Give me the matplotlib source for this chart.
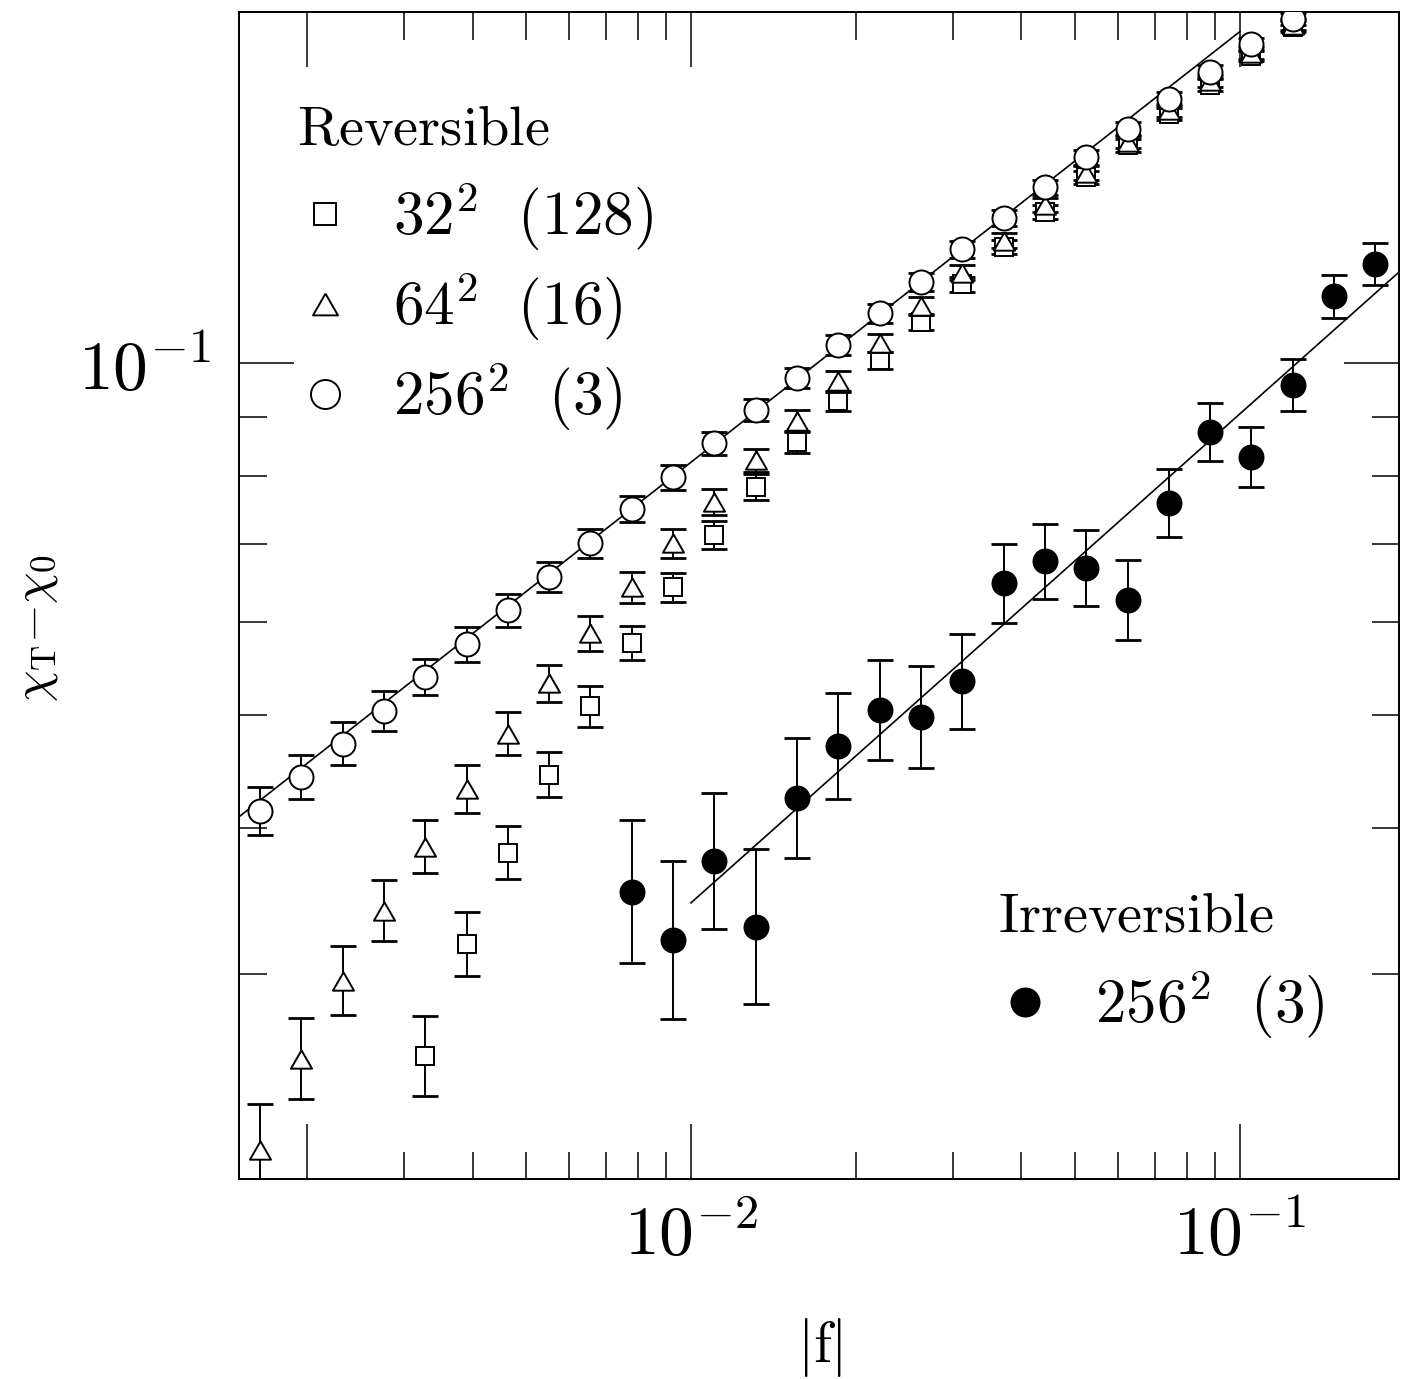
import matplotlib
matplotlib.use("Agg")
import matplotlib.pyplot as plt
import numpy as np
from matplotlib.lines import Line2D
from matplotlib.ticker import FixedLocator, FixedFormatter, LogLocator, NullFormatter

plt.rcParams['mathtext.fontset'] = 'cm'
plt.rcParams['font.family'] = ['DejaVu Serif']

# ---------------- data ----------------
# |f| grid (shared by all series)
f_grid = [0.00164, 0.00195, 0.00232, 0.00276, 0.00328, 0.00390, 0.00464, 0.00552,
          0.00656, 0.00780, 0.00928, 0.01103, 0.01312, 0.01561, 0.01856, 0.02207,
          0.02624, 0.03121, 0.03712, 0.04414, 0.05249, 0.06242, 0.07423, 0.08828,
          0.1050, 0.1248, 0.1485, 0.1766]

# Reversible 256^2 (3)  -- open circles, f_grid[0:26]
chi_256 = [0.04134, 0.04421, 0.04719, 0.05035, 0.05385, 0.05746, 0.06145, 0.06558,
           0.07014, 0.07499, 0.07989, 0.08541, 0.09116, 0.09709, 0.1036, 0.1104,
           0.1175, 0.1252, 0.1331, 0.1415, 0.1501, 0.1589, 0.1683, 0.1778, 0.1876, 0.1974]
err_256 = [0.0205, 0.0188, 0.0184, 0.0171, 0.0158, 0.0150, 0.0141, 0.0128, 0.0124,
           0.0111, 0.0107, 0.0098, 0.0094, 0.0086, 0.0086, 0.0081, 0.0077, 0.0073,
           0.0068, 0.0064, 0.0064, 0.0060, 0.0060, 0.0056, 0.0056, 0.0051]   # log10 half-widths

# Reversible 64^2 (16) -- open triangles, f_grid[0:26]
chi_64 = [0.02119, 0.02536, 0.02958, 0.03395, 0.03851, 0.04318, 0.04813, 0.05321,
          0.05872, 0.06429, 0.07014, 0.07603, 0.08260, 0.08920, 0.09651, 0.1040,
          0.1119, 0.1196, 0.1274, 0.1366, 0.1455, 0.1549, 0.1647, 0.1744, 0.1846, 0.1951]
err_64 = [0.0394, 0.0347, 0.0295, 0.0261, 0.0227, 0.0205, 0.0184, 0.0158, 0.0150,
          0.0133, 0.0124, 0.0111, 0.0098, 0.0094, 0.0090, 0.0077, 0.0077, 0.0064,
          0.0064, 0.0060, 0.0060, 0.0056, 0.0056, 0.0051, 0.0051, 0.0047]

# Reversible 32^2 (128) -- open squares, f_grid[4:26]
chi_32 = [0.02551, 0.03182, 0.03806, 0.04439, 0.05084, 0.05758, 0.06429, 0.07124,
          0.07830, 0.08559, 0.09278, 0.1006, 0.1084, 0.1169, 0.1259, 0.1349, 0.1443,
          0.1537, 0.1634, 0.1733, 0.1835, 0.1943]
err_32 = [0.0342, 0.0274, 0.0227, 0.0193, 0.0176, 0.0146, 0.0124, 0.0120, 0.0111,
          0.0094, 0.0086, 0.0073, 0.0068, 0.0064, 0.0060, 0.0060, 0.0056, 0.0056,
          0.0051, 0.0051, 0.0047, 0.0047]

# Irreversible 256^2 (3) -- filled circles, f_grid[9:28]
chi_irr = [0.03525, 0.03206, 0.03746, 0.03289, 0.04242, 0.04700, 0.05045, 0.04976,
           0.05342, 0.06480, 0.06768, 0.06675, 0.06268, 0.07588, 0.08728, 0.08309,
           0.09576, 0.1141, 0.1216]
err_irr = [0.0612, 0.0676, 0.0582, 0.0664, 0.0514, 0.0454, 0.0428, 0.0437, 0.0407,
           0.0338, 0.0321, 0.0325, 0.0342, 0.0291, 0.0248, 0.0257, 0.0223, 0.0188, 0.0180]

# power-law fits  chi = amp * f**exp
rev_fit_amp, rev_fit_exp, rev_fit_range = 0.450, 0.369, (0.0015, 0.1)
irr_fit_amp, irr_fit_exp, irr_fit_range = 0.2375, 0.419, (0.01, 0.195)

x_ticks_major = [0.002, 0.01, 0.1]
x_tick_labels = ['', r'$10^{-2}$', r'$10^{-1}$']
y_ticks_major = [0.1]
y_tick_labels = [r'$10^{-1}$']

labels_rev = [r'$32^{2}\ \ (128)$', r'$64^{2}\ \ (16)$', r'$256^{2}\ \ (3)$']
label_irr = r'$256^{2}\ \ (3)$'

# ---------------- figure ----------------
fig = plt.figure(figsize=(14.01, 13.79), dpi=100)
ax = fig.add_axes([0.1704, 0.14503, 0.8282, 0.84627])
ax.set_xscale('log')
ax.set_yscale('log')
ax.set_xlim(0.0015, 0.195)
ax.set_ylim(0.02, 0.2)

tri_verts = [(0, 0.87), (-1, -0.87), (1, -0.87), (0, 0.87)]


def draw(x, y, dex, marker, ms, mfc, z):
    y = np.asarray(y)
    d = np.asarray(dex)
    lo = y - y * 10 ** (-d)
    hi = y * 10 ** d - y
    ax.errorbar(x, y, yerr=[lo, hi], fmt='none', ecolor='black', elinewidth=1.4,
                capsize=9.5, capthick=2.0, zorder=z)
    ax.plot(x, y, linestyle='none', marker=marker, ms=ms, mfc=mfc, mec='black',
            mew=1.4, zorder=z + 0.5)


# fit lines
xr = np.geomspace(*rev_fit_range, 60)
ax.plot(xr, rev_fit_amp * xr ** rev_fit_exp, color='black', lw=1.2, zorder=1)
xi = np.geomspace(*irr_fit_range, 60)
ax.plot(xi, irr_fit_amp * xi ** irr_fit_exp, color='black', lw=1.2, zorder=1)

draw(f_grid[4:26], chi_32, err_32, 's', 12.3, 'white', 2)
draw(f_grid[0:26], chi_64, err_64, tri_verts, 15.2, 'white', 3)
draw(f_grid[0:26], chi_256, err_256, 'o', 17.3, 'white', 4)
draw(f_grid[9:28], chi_irr, err_irr, 'o', 17.3, 'black', 5)

# ticks
ax.xaxis.set_major_locator(FixedLocator(x_ticks_major))
ax.xaxis.set_major_formatter(FixedFormatter(x_tick_labels))
ax.xaxis.set_minor_locator(LogLocator(base=10, subs=np.arange(2, 10), numticks=50))
ax.xaxis.set_minor_formatter(NullFormatter())
ax.yaxis.set_major_locator(FixedLocator(y_ticks_major))
ax.yaxis.set_major_formatter(FixedFormatter(y_tick_labels))
ax.yaxis.set_minor_locator(LogLocator(base=10, subs=np.arange(2, 10), numticks=50))
ax.yaxis.set_minor_formatter(NullFormatter())
ax.tick_params(which='both', direction='in', top=True, right=True, color='black')
ax.tick_params(which='major', length=39.6, width=1.1)
ax.tick_params(which='minor', length=19.8, width=1.1)
ax.tick_params(axis='x', which='major', pad=17, labelsize=50)
ax.tick_params(axis='y', which='major', pad=20, labelsize=50)
for s in ax.spines.values():
    s.set_linewidth(1.44)

# axis labels
ax.set_xlabel(r'$|\mathrm{f}|$', fontsize=42, va='center')
ax.xaxis.set_label_coords(0.501, -0.144)
ax.set_ylabel(r'$\chi_{\mathrm{T}}{-}\chi_0$', fontsize=36, va='center')
ax.yaxis.set_label_coords(-0.1756, 0.472)

# legends
h_sq = Line2D([], [], ls='none', marker='s', ms=15.2, mfc='white', mec='black', mew=1.4)
h_tr = Line2D([], [], ls='none', marker=tri_verts, ms=18, mfc='white', mec='black', mew=1.4)
h_ci = Line2D([], [], ls='none', marker='o', ms=20.9, mfc='white', mec='black', mew=1.4)
h_fi = Line2D([], [], ls='none', marker='o', ms=20.2, mfc='black', mec='black', mew=1.4)

ax.text(0.0502, 0.886, r'$\mathrm{Reversible}$', transform=ax.transAxes,
        fontsize=40.5, ha='left', va='baseline')
leg1 = ax.legend(handles=[h_sq, h_tr, h_ci], labels=labels_rev, loc='upper left',
                 bbox_to_anchor=(0.0533, 0.8555), frameon=False, fontsize=44,
                 handlelength=0.8, handletextpad=0.713, labelspacing=0.28,
                 borderpad=0, borderaxespad=0)
ax.add_artist(leg1)

ax.text(0.6544, 0.2117, r'$\mathrm{Irreversible}$', transform=ax.transAxes,
        fontsize=40.5, ha='left', va='baseline')
leg2 = ax.legend(handles=[h_fi], labels=[label_irr], loc='upper left',
                 bbox_to_anchor=(0.6567, 0.1803), frameon=False, fontsize=44,
                 handlelength=0.8, handletextpad=0.746, borderpad=0, borderaxespad=0)

fig.savefig('out.png', dpi=100)
